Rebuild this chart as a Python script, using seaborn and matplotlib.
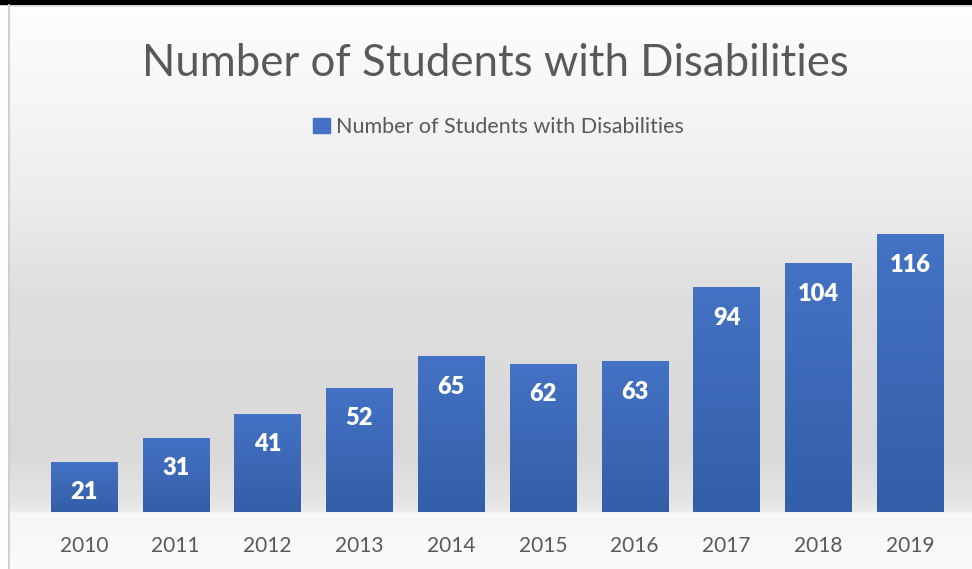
import matplotlib.pyplot as plt
import matplotlib.patches as mpatches
import numpy as np
import seaborn as sns

years = ["2010", "2011", "2012", "2013", "2014", "2015", "2016", "2017", "2018", "2019"]
students = [21, 31, 41, 52, 65, 62, 63, 94, 104, 116]
chart_title = "Number of Students with Disabilities"
series_name = "Number of Students with Disabilities"

W, H = 972, 569
TEXT = "#595959"
BAR_TOP = "#4472c4"
BAR_BOTTOM = "#335ea8"

sns.set_theme(style="white")
plt.rcParams["font.family"] = ["Lato", "DejaVu Sans"]

fig = plt.figure(figsize=(W / 100, H / 100), dpi=100)

# background: Excel-like gray gradient
bg = fig.add_axes([0, 0, 1, 1], zorder=-10)
stops_y = [0, 10, 100, 200, 300, 450, 500, 511, 513, 569]
stops_v = [255, 253, 246, 236, 222, 217, 228, 236, 246, 251]
col = np.interp(np.arange(H), stops_y, stops_v) / 255.0
grad = np.repeat(col[:, None], W, axis=1)
bg.imshow(np.dstack([grad] * 3), extent=[0, W, H, 0], aspect="auto")
bg.fill_between([0, 8], 0, H, color="white")
bg.plot([8.5, 8.5], [5, H], color="#d0d0d0", lw=1.5)
bg.fill_between([0, W], 0, 3.5, color="black")
bg.plot([8, W], [5.5, 5.5], color="#d9d9d9", lw=1.2)
bg.set_xlim(0, W)
bg.set_ylim(H, 0)
bg.axis("off")

# main bars
ax = fig.add_axes([38 / W, 1 - 512 / H, (956 - 38) / W, 335 / H])
ax.patch.set_alpha(0)
sns.barplot(x=years, y=students, color=BAR_TOP, width=0.72, ax=ax,
            zorder=3, linewidth=0, edgecolor="none")

# vertical gradient inside each bar
top_rgb = np.array(plt.matplotlib.colors.to_rgb(BAR_TOP))
bot_rgb = np.array(plt.matplotlib.colors.to_rgb(BAR_BOTTOM))
shade = np.linspace(0, 1, 100)[:, None]
bar_img = (top_rgb * (1 - shade) + bot_rgb * shade)[:, None, :]
for p in ax.patches:
    x0, y0 = p.get_x(), p.get_y()
    w, h = p.get_width(), p.get_height()
    im = ax.imshow(bar_img, extent=[x0, x0 + w, y0, y0 + h], aspect="auto", zorder=4)
    im.set_clip_path(p)
ax.set_xlim(-0.5, len(years) - 0.5)
ax.set_ylim(0, 140)

for p, v in zip(ax.patches, students):
    ax.annotate(str(v), (p.get_x() + p.get_width() / 2, p.get_height()),
                xytext=(0, -22), textcoords="offset points",
                ha="center", va="center", color="white",
                fontsize=17, fontweight="heavy", zorder=6)

ax.set_yticks([])
ax.tick_params(axis="x", length=0, pad=17, labelsize=15, labelcolor=TEXT)
ax.set_xlabel("")
ax.set_ylabel("")
sns.despine(ax=ax, left=True, bottom=True)

fig.text(0.51, 1 - 64 / H, chart_title, ha="center", va="center",
         fontsize=31.5, color=TEXT)

handle = mpatches.Patch(color=BAR_TOP, label=series_name)
fig.legend(handles=[handle], loc="center", bbox_to_anchor=(0.513, 1 - 127 / H),
           frameon=False, fontsize=15.5, labelcolor=TEXT,
           handlelength=0.75, handleheight=0.75, handletextpad=0.3)

fig.savefig("out.png", dpi=100)
